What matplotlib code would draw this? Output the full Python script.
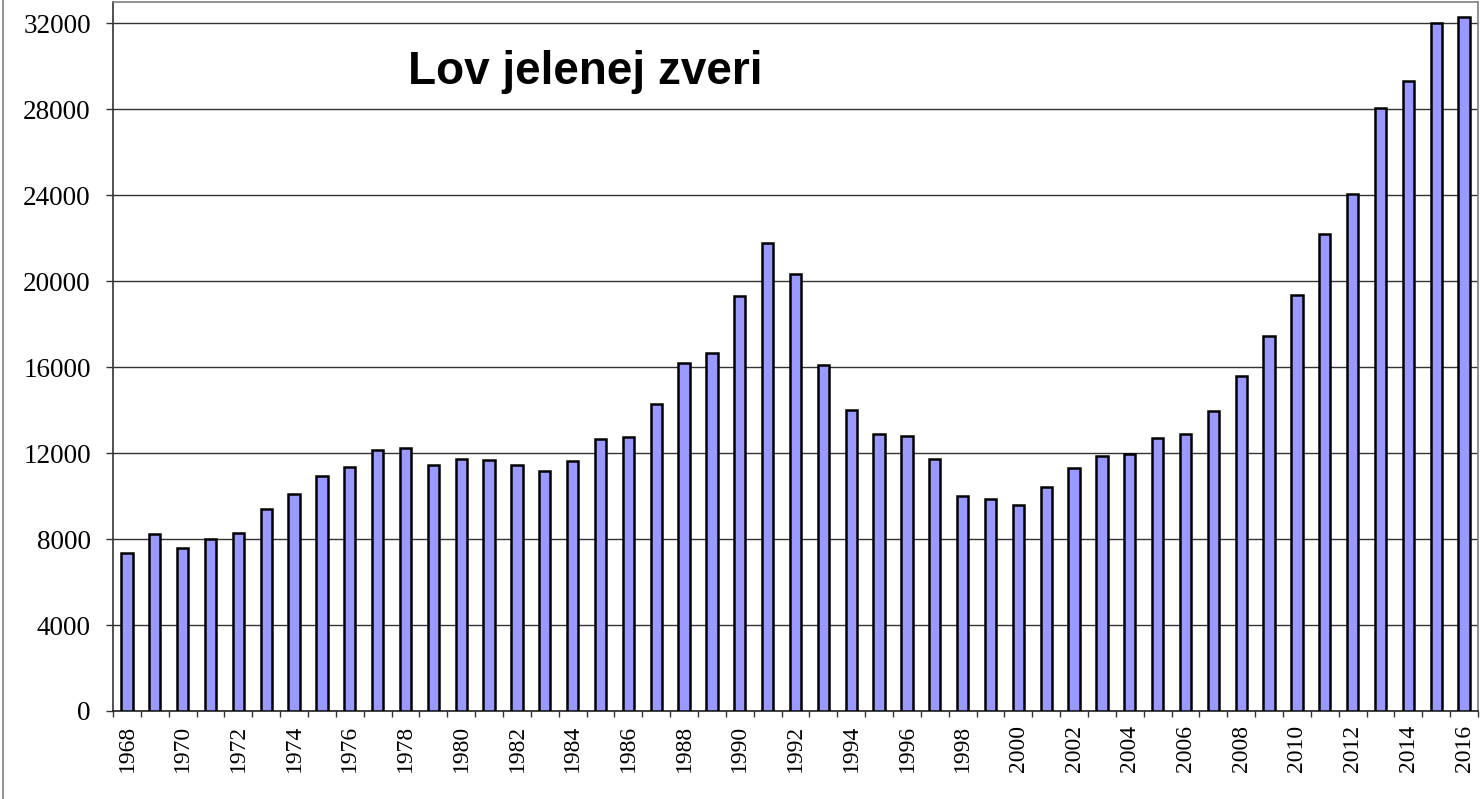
import numpy as np
import matplotlib
matplotlib.use('Agg')
import matplotlib.pyplot as plt
from matplotlib.lines import Line2D

years = list(range(1968, 2017))
harvest = [7350, 8220, 7610, 7990, 8290, 9400, 10100, 10930, 11350, 12130,
           12220, 11450, 11710, 11690, 11450, 11190, 11630, 12640, 12760, 14290,
           16220, 16670, 19330, 21780, 20330, 16090, 14030, 12870, 12820, 11750,
           10000, 9890, 9610, 10420, 11290, 11850, 11970, 12710, 12870, 13950,
           15580, 17470, 19380, 22200, 24050, 28060, 29300, 32020, 32310]
yticks = list(range(0, 32001, 4000))
title = 'Lov jelenej zveri'

W, H = 1480, 799
fig = plt.figure(figsize=(W / 100, H / 100), dpi=100)
ax = fig.add_axes([113 / W, 1 - 711 / H, (1478 - 113) / W, (711 - 2) / H])

x = np.arange(len(years))
ax.bar(x, harvest, width=0.41, color='#9999FF', edgecolor='black',
       linewidth=1.8, zorder=3)

ax.set_xlim(-0.5, len(years) - 0.5)
ax.set_ylim(0, 33000)

# gridlines at the major y ticks
ax.set_yticks(yticks)
ax.set_yticklabels([str(v) for v in yticks], family='Liberation Serif',
                   fontsize=19.5)
ax.yaxis.grid(True, color='#333333', linewidth=1.0, zorder=0)
ax.tick_params(axis='y', length=5, width=1, color='#333333', pad=11)

# labels every other year at the bar centres, tick marks between bars
ax.set_xticks(x[::2])
ax.set_xticklabels([str(y) for y in years[::2]], rotation=90,
                   family='Liberation Serif', fontsize=17)
ax.tick_params(axis='x', which='major', length=0, pad=10)
ax.set_xticks(np.arange(-0.5, len(years), 1.0), minor=True)
ax.tick_params(axis='x', which='minor', length=4, width=1, color='#333333')

for side in ['top', 'right']:
    ax.spines[side].set_color('#808080')
    ax.spines[side].set_linewidth(1.2)
ax.spines['left'].set_color('#333333')
ax.spines['bottom'].set_color('#222222')
ax.spines['left'].set_linewidth(1.2)
ax.spines['bottom'].set_linewidth(1.2)

fig.text(408 / W, 1 - 83.5 / H, title, family='Liberation Sans',
         fontweight='bold', fontsize=33, ha='left', va='baseline')

# outer chart frame
fig.add_artist(Line2D([3 / W, 3 / W], [0, 1], transform=fig.transFigure,
                      color='#808080', linewidth=1.2))

fig.savefig('out.png', dpi=100)
